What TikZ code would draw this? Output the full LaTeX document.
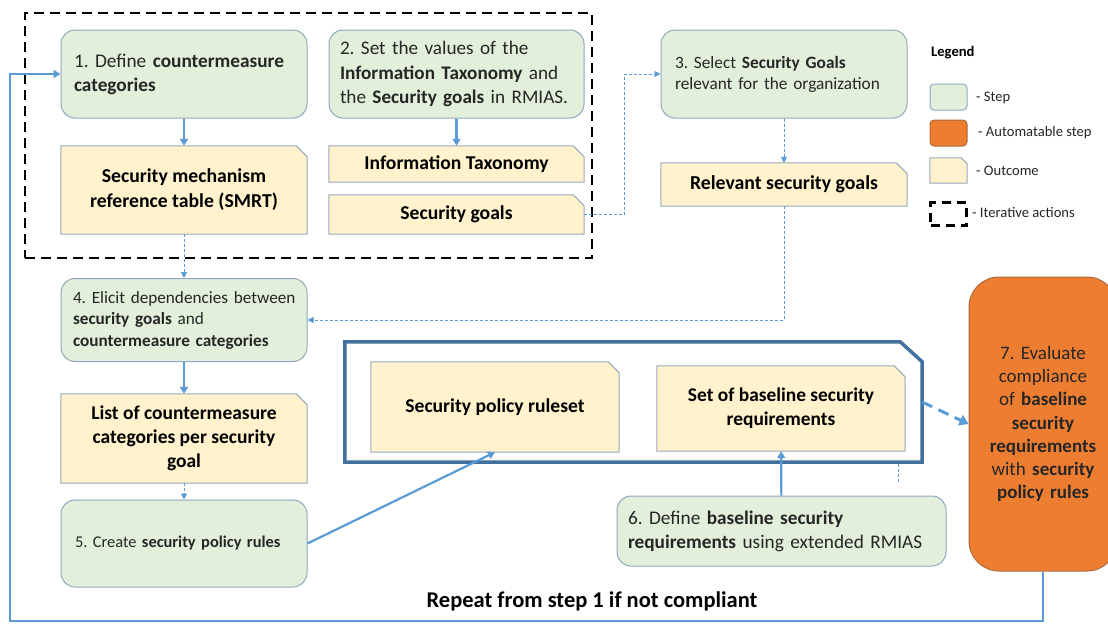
\documentclass[tikz,border=0pt]{standalone}
\usepackage{fontspec}
\setmainfont{Carlito}
\usetikzlibrary{arrows.meta,calc,backgrounds}
\frenchspacing

\definecolor{stepfill}{HTML}{E2EFDA}
\definecolor{stepline}{HTML}{8EA9C1}
\definecolor{outfill}{HTML}{FFF2CC}
\definecolor{outline}{HTML}{9AAABB}
\definecolor{autofill}{HTML}{ED7D31}
\definecolor{autoline}{HTML}{B06A3A}
\definecolor{flowblue}{HTML}{5B9BD5}
\definecolor{groupblue}{HTML}{41719C}
\definecolor{txt}{HTML}{262626}

\pgfdeclarelayer{paper}
\pgfsetlayers{paper,background,main}

\tikzset{
  stepbox/.style={draw=stepline, fill=stepfill, line width=1pt, rounded corners=14pt,
    text=txt, align=left, inner sep=0pt},
  autobox/.style={draw=autoline, fill=autofill, line width=1pt, rounded corners=30pt,
    text=txt, align=center, inner sep=0pt},
  outtext/.style={inner sep=0pt, align=center, text=black},
  outshape/.style={draw=outline, fill=outfill, line width=1pt},
  iterframe/.style={draw=black, line width=2.8pt, dash pattern=on 10pt off 6pt, inner sep=0pt},
  flow/.style={draw=flowblue, line width=2.2pt, -{Triangle[length=7pt,width=8pt]}},
  hint/.style={draw=flowblue, line width=0.9pt, dash pattern=on 3pt off 2pt,
    -{Triangle[length=6pt,width=6pt]}},
  hintline/.style={draw=flowblue, line width=0.9pt, dash pattern=on 3pt off 2pt},
  bigdash/.style={draw=flowblue, line width=3pt, dash pattern=on 11pt off 7pt,
    -{Triangle[length=9pt,width=11pt]}},
  loopline/.style={draw=flowblue, line width=2pt, -{Triangle[length=7pt,width=8pt]}},
  legendtext/.style={anchor=west, inner sep=0pt, text=txt, font=\fontsize{14.6}{17}\selectfont},
}

% outcome box: name, centre, width, height, font, text
\newcommand\outcome[6]{%
  \node[outtext, font=#5, minimum width=#3, minimum height=#4] (#1) at #2 {#6};
  \begin{scope}[on background layer]
    \filldraw[outshape] (#1.south west) -- (#1.north west) -- ([xshift=-11pt]#1.north east)
      -- ([yshift=-11pt]#1.north east) -- (#1.south east) -- cycle;
  \end{scope}}

\begin{document}
\begin{tikzpicture}[x=1pt, y=-1pt]
\useasboundingbox (0,0) rectangle (1108,624);
\begin{pgfonlayer}{paper}
  \fill[white] (0,0) rectangle (1108,624);
\end{pgfonlayer}

% iterative actions frame
\node[iterframe, minimum width=567pt, minimum height=245pt] (iter) at (308.5,135.5) {};

% steps
\node[stepbox, minimum width=246pt, minimum height=88pt, text width=220pt,
  font=\fontsize{19.3}{24}\selectfont] (s1) at (184,74)
  {1. Define \textbf{countermeasure}\\\textbf{categories}};
\node[stepbox, minimum width=255pt, minimum height=88pt, text width=233pt,
  font=\fontsize{19.2}{24.5}\selectfont] (s2) at (456.5,74)
  {\mbox{2. Set the values of the}\\\mbox{\textbf{Information Taxonomy} and}\\\mbox{the \textbf{Security goals} in RMIAS.}};
\node[stepbox, minimum width=246pt, minimum height=88pt, text width=218pt,
  font=\fontsize{17.3}{21}\selectfont] (s3) at (784,74)
  {3. Select \textbf{Security Goals}\\relevant for the organization};
\node[stepbox, minimum width=246pt, minimum height=83pt, text width=222pt,
  font=\fontsize{17.2}{21.5}\selectfont] (s4) at (184,320)
  {\mbox{4. Elicit dependencies between}\\\textbf{security goals} and\\\mbox{\textbf{countermeasure categories}}};
\node[stepbox, minimum width=246pt, minimum height=87pt, text width=218pt,
  font=\fontsize{16.4}{21}\selectfont] (s5) at (184,543.5)
  {5. Create \textbf{security policy rules}};
\node[stepbox, minimum width=329pt, minimum height=70pt, text width=307pt,
  font=\fontsize{19.3}{24}\selectfont] (s6) at (781.5,531)
  {6. Define \textbf{baseline security}\\\textbf{requirements} using extended RMIAS};
\node[autobox, minimum width=148pt, minimum height=294pt, text width=140pt,
  font=\fontsize{19}{23.2}\selectfont] (s7) at (1043,424)
  {7. Evaluate\\compliance\\of \textbf{baseline}\\\textbf{security}\\\textbf{requirements}\\with \textbf{security}\\\textbf{policy rules}};

% outcomes
\outcome{smrt}{(184,190)}{246pt}{88pt}{\fontsize{19.7}{25}\selectfont\bfseries}
  {Security mechanism\\reference table (SMRT)}
\outcome{it}{(456.5,164)}{255pt}{36pt}{\fontsize{19.6}{22}\selectfont\bfseries}
  {Information Taxonomy}
\outcome{sg}{(456.5,214.5)}{255pt}{39pt}{\fontsize{19.6}{22}\selectfont\bfseries}
  {Security goals}
\outcome{rg}{(784,184.5)}{246pt}{43pt}{\fontsize{19.8}{22}\selectfont\bfseries}
  {Relevant security goals}
\outcome{list}{(184,438.5)}{246pt}{89pt}{\fontsize{19.5}{24}\selectfont\bfseries}
  {List of countermeasure\\categories per security\\goal}
\outcome{rs}{(495,407)}{248pt}{90pt}{\fontsize{19.6}{22}\selectfont\bfseries}
  {Security policy ruleset}
\outcome{bl}{(781,408.5)}{248pt}{85pt}{\fontsize{19.4}{24}\selectfont\bfseries}
  {Set of baseline security\\requirements}

% group of security policy outcomes
\node[inner sep=0pt, minimum width=577pt, minimum height=120pt] (grp) at (633.5,402) {};
\draw[groupblue, line width=3.5pt, line join=miter]
  (grp.south west) -- (grp.north west) -- ([xshift=-22pt]grp.north east)
  -- ([yshift=-20pt]grp.north east) -- (grp.south east) -- cycle;

% connectors
\draw[flow] (s1) -- (smrt);
\draw[flow] (s2) -- (it);
\draw[hint] (smrt) -- (s4);
\draw[hint] (sg.east) -- ++(40,0) |- (s3.west);
\draw[hint] (s3) -- (rg);
\draw[hint] (rg.south) |- (s4.east);
\draw[flow] (s4) -- (list);
\draw[hint] (list) -- (s5);
\draw[flow] (s5.east) -- (rs.south);
\draw[flow] (s6) -- (bl);
\draw[bigdash] (grp.east) -- (s7.west);
\draw[loopline] (s7.south) |- (10,621) |- (s1.west);

% short dashed stub below the group
\coordinate (stubtop) at (898,464);
\coordinate (stubend) at (898,482);
\draw[hintline] (stubtop) -- (stubend);

% repeat label
\node[font=\fontsize{22.5}{26}\selectfont\bfseries, text=black, inner sep=0pt] (rep) at (592,601)
  {Repeat from step 1 if not compliant};

% legend
\node[anchor=west, inner sep=0pt, font=\fontsize{14.6}{17}\selectfont\bfseries] (lgd) at (931,53) {Legend};
\node[draw=stepline, fill=stepfill, line width=1pt, rounded corners=4pt,
  minimum width=37pt, minimum height=26pt, inner sep=0pt] (lstep) at (948.5,97) {};
\node[legendtext] (lsteptext) at (976,97.5) {- Step};
\node[draw=autoline, fill=autofill, line width=1pt, rounded corners=4pt,
  minimum width=37pt, minimum height=26pt, inner sep=0pt] (lauto) at (948.5,133) {};
\node[legendtext] (lautotext) at (978,133) {- Automatable step};
\node[inner sep=0pt, minimum width=37pt, minimum height=25pt] (lout) at (948.5,170.5) {};
\filldraw[outshape] (lout.south west) -- (lout.north west) -- ([xshift=-6pt]lout.north east)
  -- ([yshift=-6pt]lout.north east) -- (lout.south east) -- cycle;
\node[legendtext] (louttext) at (976,171) {- Outcome};
\node[draw=black, line width=2.8pt, dash pattern=on 9pt off 6pt, minimum width=36pt,
  minimum height=23pt, inner sep=0pt] (liter) at (948.5,214) {};
\node[legendtext] (litertext) at (972,213) {- Iterative actions};
\end{tikzpicture}
\end{document}
